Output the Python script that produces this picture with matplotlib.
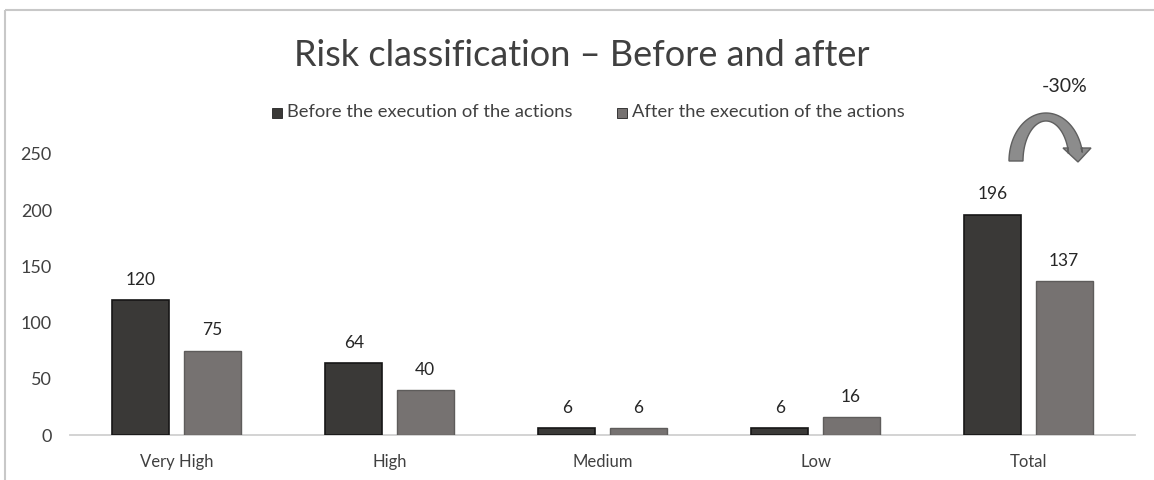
import matplotlib
matplotlib.use("Agg")
import matplotlib.pyplot as plt
import numpy as np
from matplotlib.patches import Polygon, Rectangle

plt.rcParams['font.family'] = ['Lato', 'DejaVu Sans']

categories = ["Very High", "High", "Medium", "Low", "Total"]
before = [120, 64, 6, 6, 196]
after = [75, 40, 6, 16, 137]
series_names = ["Before the execution of the actions", "After the execution of the actions"]
yticks = [0, 50, 100, 150, 200, 250]
change_label = "-30%"

W, H = 1154, 480
fig = plt.figure(figsize=(W / 100, H / 100), dpi=100)

# main plot area
ax = fig.add_axes([70 / W, (H - 435) / H, (1135 - 70) / W, (435 - 154) / H])
x = np.arange(len(categories))
bw = 0.268
off = 0.167
dark_fc, dark_ec = "#3a3937", "#161616"
light_fc, light_ec = "#767271", "#5e5c5b"
b1 = ax.bar(x - off, before, bw, color=dark_fc, edgecolor=dark_ec, linewidth=1.2, zorder=3)
b2 = ax.bar(x + off, after, bw, color=light_fc, edgecolor=light_ec, linewidth=1.0, zorder=3)

for bars, vals in ((b1, before), (b2, after)):
    for r, v in zip(bars, vals):
        ax.annotate(str(v), (r.get_x() + r.get_width() / 2, v), xytext=(0, 9),
                    textcoords="offset points", ha="center", va="bottom",
                    fontsize=12.5, color="#262626")

ax.set_xlim(-0.5, len(categories) - 0.5)
ax.set_ylim(0, 250)
ax.set_yticks(yticks)
ax.set_xticks(x)
ax.set_xticklabels(categories)
ax.tick_params(axis="both", length=0, labelcolor="#404040")
ax.tick_params(axis="y", pad=13, labelsize=13)
ax.tick_params(axis="x", pad=14, labelsize=12)
for s in ("top", "right", "left"):
    ax.spines[s].set_visible(False)
ax.spines["bottom"].set_color("#d0d0d0")
ax.spines["bottom"].set_linewidth(1.3)
ax.patch.set_alpha(0)

# overlay in pixel coordinates for frame, title, legend and arrow
ov = fig.add_axes([0, 0, 1, 1], zorder=5)
ov.set_xlim(0, W)
ov.set_ylim(H, 0)
ov.axis("off")
ov.patch.set_alpha(0)

ov.add_patch(Rectangle((5, 10), W + 20, H + 20, fill=False, edgecolor="#c8c8c8", linewidth=1.5))

ov.text(582, 55, "Risk classification \u2013 Before and after", ha="center", va="center",
        fontsize=26, color="#404040")

leg_items = [(277, dark_fc, series_names[0]), (622, light_fc, series_names[1])]
for lx, col, name in leg_items:
    ov.add_patch(Rectangle((lx - 5, 108), 10, 10, facecolor=col, edgecolor="#222222", linewidth=0.6))
    ov.text(lx + 10, 112, name, ha="left", va="center", fontsize=13.2, color="#404040")

# curved arrow over the Total group
cx, cy = 1046, 161
t = np.linspace(np.pi, 0.18, 80)
outer = np.column_stack([cx + 37 * np.cos(t), cy - 48 * np.sin(t)])
inner = np.column_stack([cx + 23 * np.cos(t[::-1]), cy - 40 * np.sin(t[::-1])])
band = np.vstack([outer, [[1081, 148], [1091, 148], [1078, 162], [1063, 148], [1068, 148]], inner])
ov.add_patch(Polygon(band, closed=True, facecolor="#8c8c8c", edgecolor="#5f5f5f", linewidth=1.0))

ov.text(1065, 87, change_label, ha="center", va="center", fontsize=14, color="#262626")

fig.savefig("out.png", dpi=100, facecolor="white")
